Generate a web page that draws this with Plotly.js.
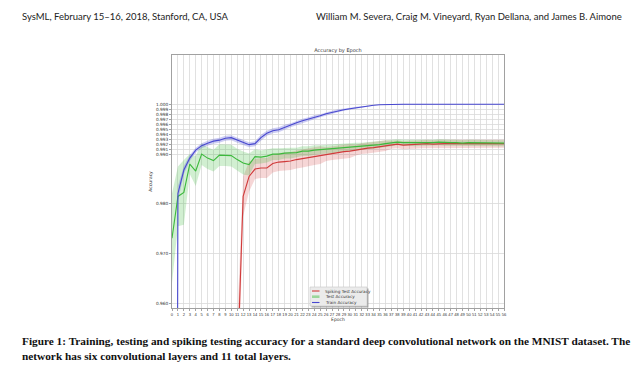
<!DOCTYPE html>
<html>
<head>
<meta charset="utf-8">
<script src="https://cdn.plot.ly/plotly-3.0.1.min.js"></script>
<style>html,body{margin:0;padding:0;background:#fff;}#chart{width:644px;height:371px;}</style>
</head>
<body>
<div id="chart"></div>
<script>
// ---- data ----
var epochs = [];
for (var i = 0; i <= 56; i++) epochs.push(i);

var trainAcc = [0.52, 0.9821, 0.9868, 0.9892, 0.9908, 0.9917, 0.9922, 0.9926, 0.9928, 0.9932,
  0.9933, 0.9928, 0.9923, 0.9919, 0.9921, 0.9933, 0.9942, 0.9947, 0.9949, 0.9954,
  0.9958, 0.9963, 0.9967, 0.9970, 0.9974, 0.9977, 0.9981, 0.9984, 0.9987, 0.9989,
  0.9991, 0.9993, 0.9995, 0.9996, 0.9998, 0.9999, 0.99995, 1.0, 1.0, 1.0,
  1.0, 1.0, 1.0, 1.0, 1.0, 1.0, 1.0, 1.0, 1.0, 1.0,
  1.0, 1.0, 1.0, 1.0, 1.0, 1.0, 1.0];
var trainStd = [0.05, 0.0015, 0.0008, 0.0006, 0.0005, 0.0005, 0.0005, 0.0005, 0.0005, 0.0005,
  0.0005, 0.0005, 0.0005, 0.0005, 0.0005, 0.0006, 0.0005, 0.0005, 0.0005, 0.0005,
  0.0004, 0.0004, 0.0004, 0.0004, 0.0004, 0.0003, 0.0003, 0.0003, 0.0003, 0.0002,
  0.0002, 0.0002, 0.0001, 0.0001, 0.0001, 0.00005, 0.00003, 0, 0, 0,
  0, 0, 0, 0, 0, 0, 0, 0, 0, 0,
  0, 0, 0, 0, 0, 0, 0];

var testAcc = [0.9731, 0.9815, 0.9823, 0.9880, 0.9866, 0.9900, 0.9892, 0.9887, 0.9898, 0.9898,
  0.9897, 0.9889, 0.9882, 0.9879, 0.9895, 0.9894, 0.9896, 0.9900, 0.9900, 0.9902,
  0.9902, 0.9903, 0.9906, 0.9906, 0.9908, 0.9909, 0.9910, 0.9910, 0.9912, 0.9913,
  0.9914, 0.9915, 0.9916, 0.9917, 0.9918, 0.9919, 0.9921, 0.9922, 0.9924, 0.9923,
  0.9923, 0.9922, 0.9923, 0.9923, 0.9923, 0.9924, 0.9923, 0.9923, 0.9923, 0.9922,
  0.9923, 0.9923, 0.9922, 0.9922, 0.9922, 0.9922, 0.9922];
var testStd = [0.009, 0.006, 0.0065, 0.002, 0.003, 0.0022, 0.0022, 0.0022, 0.0022, 0.0022,
  0.0022, 0.0022, 0.0023, 0.0022, 0.0015, 0.0013, 0.0013, 0.0012, 0.0012, 0.0011,
  0.0011, 0.0010, 0.0010, 0.0010, 0.0010, 0.0009, 0.0009, 0.0009, 0.0008, 0.0008,
  0.0008, 0.0008, 0.0007, 0.0007, 0.0007, 0.0007, 0.0007, 0.0006, 0.0006, 0.0006,
  0.0006, 0.0006, 0.0006, 0.0006, 0.0006, 0.0006, 0.0006, 0.0006, 0.0006, 0.0006,
  0.0006, 0.0006, 0.0006, 0.0006, 0.0006, 0.0006, 0.0006];

var spikingAcc = [null, null, null, null, null, null, null, null, null, null,
  null, 0.946, 0.9815, 0.9855, 0.9870, 0.9872, 0.9872, 0.9881, 0.9884, 0.9885,
  0.9886, 0.9889, 0.9891, 0.9893, 0.9896, 0.9898, 0.9900, 0.9902, 0.9903, 0.9905,
  0.9906, 0.9908, 0.9911, 0.9912, 0.9913, 0.9915, 0.9917, 0.9919, 0.9920, 0.9918,
  0.9919, 0.9919, 0.9920, 0.9921, 0.9920, 0.9921, 0.9921, 0.9921, 0.9921, 0.9920,
  0.9921, 0.9921, 0.9921, 0.9921, 0.9921, 0.9921, 0.9921];
var spikingStd = [null, null, null, null, null, null, null, null, null, null,
  null, 0.010, 0.004, 0.003, 0.002, 0.002, 0.002, 0.0018, 0.0018, 0.0018,
  0.0018, 0.0018, 0.0018, 0.0018, 0.0018, 0.0018, 0.0014, 0.0014, 0.0014, 0.0014,
  0.0014, 0.0011, 0.0011, 0.0011, 0.0011, 0.0011, 0.0011, 0.0008, 0.0008, 0.0008,
  0.0008, 0.0008, 0.0008, 0.0008, 0.0008, 0.0008, 0.0008, 0.0008, 0.0008, 0.0008,
  0.0008, 0.0008, 0.0008, 0.0008, 0.0008, 0.0008, 0.0008];

var yTickVals = [0.960, 0.970, 0.980, 0.990, 0.991, 0.992, 0.993, 0.994, 0.995, 0.996, 0.997, 0.998, 0.999, 1.000];
var yTickText = ['0.960', '0.970', '0.980', '0.990', '0.991', '0.992', '0.993', '0.994', '0.995', '0.996', '0.997', '0.998', '0.999', '1.000'];

var seriesNames = ['Spiking Test Accuracy', 'Test Accuracy', 'Train Accuracy'];
var headerLeft = 'SysML, February 15\u201316, 2018, Stanford, CA, USA';
var headerRight = 'William M. Severa, Craig M. Vineyard, Ryan Dellana, and James B. Aimone';
var captionLine1 = 'Figure 1: Training, testing and spiking testing accuracy for a standard deep convolutional network on the MNIST dataset. The';
var captionLine2 = 'network has six convolutional layers and 11 total layers.';

// ---- styling ----
var W = 644, H = 371;
var M = {l: 172, r: 140, t: 55, b: 63};
var PW = W - M.l - M.r, PH = H - M.t - M.b;
function px(x) { return (x - M.l) / PW; }
function py(y) { return (H - M.b - y) / PH; }

var lineColors = ['rgb(208,58,58)', 'rgb(60,185,60)', 'rgb(72,72,208)'];
var fillColors = ['rgba(215,70,70,0.22)', 'rgba(70,190,70,0.25)', 'rgba(80,80,215,0.28)'];

function band(xs, v, s) {
  var up = [], lo = [], xu = [], xl = [];
  for (var k = 0; k < xs.length; k++) {
    if (v[k] === null) continue;
    xu.push(xs[k]); up.push(v[k] + s[k]);
    xl.push(xs[k]); lo.push(v[k] - s[k]);
  }
  return {x: xu.concat(xl.reverse()), y: up.concat(lo.reverse())};
}

var series = [
  {v: spikingAcc, s: spikingStd},
  {v: testAcc, s: testStd},
  {v: trainAcc, s: trainStd}
];
var traces = [];
series.forEach(function (sr, idx) {
  var b = band(epochs, sr.v, sr.s);
  traces.push({x: b.x, y: b.y, type: 'scatter', mode: 'lines', fill: 'toself',
    fillcolor: fillColors[idx], line: {width: 0}, hoverinfo: 'skip', showlegend: false});
});
series.forEach(function (sr, idx) {
  traces.push({x: epochs, y: sr.v, type: 'scatter', mode: 'lines', name: seriesNames[idx],
    line: {color: lineColors[idx], width: 1.1}, connectgaps: false, showlegend: false});
});

var tickFont = {family: 'Liberation Sans', size: 4.1, color: '#333'};

// manual legend (matplotlib style box with shadow)
var lg = {x0: 310, x1: 367, y0: 287, y1: 306};
var shapes = [
  {type: 'rect', xref: 'paper', yref: 'paper', x0: px(lg.x0 + 1.5), x1: px(lg.x1 + 1.5), y0: py(lg.y1 + 1.5), y1: py(lg.y0 + 1.5),
    fillcolor: 'rgba(120,120,120,0.6)', line: {width: 0}},
  {type: 'rect', xref: 'paper', yref: 'paper', x0: px(lg.x0), x1: px(lg.x1), y0: py(lg.y1), y1: py(lg.y0),
    fillcolor: '#ebebeb', line: {color: '#c8c8c8', width: 0.6}}
];
var legY = [291, 296.7, 302.5];
var legW = [1.1, 2.6, 1.1];
var legC = [lineColors[0], 'rgba(100,200,100,0.6)', lineColors[2]];
var annotations = [];
for (var j = 0; j < 3; j++) {
  shapes.push({type: 'line', xref: 'paper', yref: 'paper', x0: px(312), x1: px(319.5), y0: py(legY[j]), y1: py(legY[j]),
    line: {color: legC[j], width: legW[j]}});
  annotations.push({xref: 'paper', yref: 'paper', x: px(322.5), y: py(legY[j]), xanchor: 'left', yanchor: 'middle',
    text: seriesNames[j], showarrow: false, font: {family: 'DejaVu Sans', size: 4.2, color: '#333'}});
}
annotations.push({xref: 'paper', yref: 'paper', x: px(20), y: py(16), xanchor: 'left', yanchor: 'middle',
  text: headerLeft, showarrow: false, font: {family: 'Lato', size: 9.5, color: '#222'}});
annotations.push({xref: 'paper', yref: 'paper', x: px(624), y: py(16), xanchor: 'right', yanchor: 'middle',
  text: headerRight, showarrow: false, font: {family: 'Lato', size: 9.5, color: '#222'}});
annotations.push({xref: 'paper', yref: 'paper', x: px(20), y: py(341), xanchor: 'left', yanchor: 'middle',
  text: '<b>' + captionLine1 + '</b>', showarrow: false, font: {family: 'Liberation Serif', size: 11.3, color: '#111'}});
annotations.push({xref: 'paper', yref: 'paper', x: px(20), y: py(356), xanchor: 'left', yanchor: 'middle',
  text: '<b>' + captionLine2 + '</b>', showarrow: false, font: {family: 'Liberation Serif', size: 11.3, color: '#111'}});

var layout = {
  width: W, height: H,
  margin: M,
  paper_bgcolor: '#fff', plot_bgcolor: '#fff',
  showlegend: false,
  title: {text: 'Accuracy by Epoch', font: {family: 'DejaVu Sans', size: 5, color: '#333'},
    x: 0.5, xref: 'paper', xanchor: 'center', y: 1 - 50 / H, yref: 'container', yanchor: 'middle'},
  xaxis: {range: [0, 56], tickmode: 'array', tickvals: epochs, ticktext: epochs.map(String),
    showgrid: true, gridcolor: '#d9d9d9', gridwidth: 0.8, zeroline: false,
    showline: true, mirror: true, linecolor: '#8a8a8a', linewidth: 0.8,
    ticks: 'outside', ticklen: 2, tickcolor: '#666', tickwidth: 0.6, tickangle: 0,
    tickfont: tickFont,
    title: {text: 'Epoch', font: {family: 'DejaVu Sans', size: 4.5, color: '#333'}, standoff: 1}},
  yaxis: {range: [0.9591, 1.0099], tickmode: 'array', tickvals: yTickVals, ticktext: yTickText,
    showgrid: true, gridcolor: '#d9d9d9', gridwidth: 0.8, zeroline: false,
    showline: true, mirror: true, linecolor: '#8a8a8a', linewidth: 0.8,
    ticks: 'outside', ticklen: 2, tickcolor: '#666', tickwidth: 0.6,
    tickfont: {family: 'DejaVu Sans', size: 4.3, color: '#333'},
    title: {text: 'Accuracy', font: {family: 'DejaVu Sans', size: 4.5, color: '#333'}, standoff: 3}},
  shapes: shapes,
  annotations: annotations
};

Plotly.newPlot('chart', traces, layout, {staticPlot: true, displayModeBar: false});
</script>
</body>
</html>
